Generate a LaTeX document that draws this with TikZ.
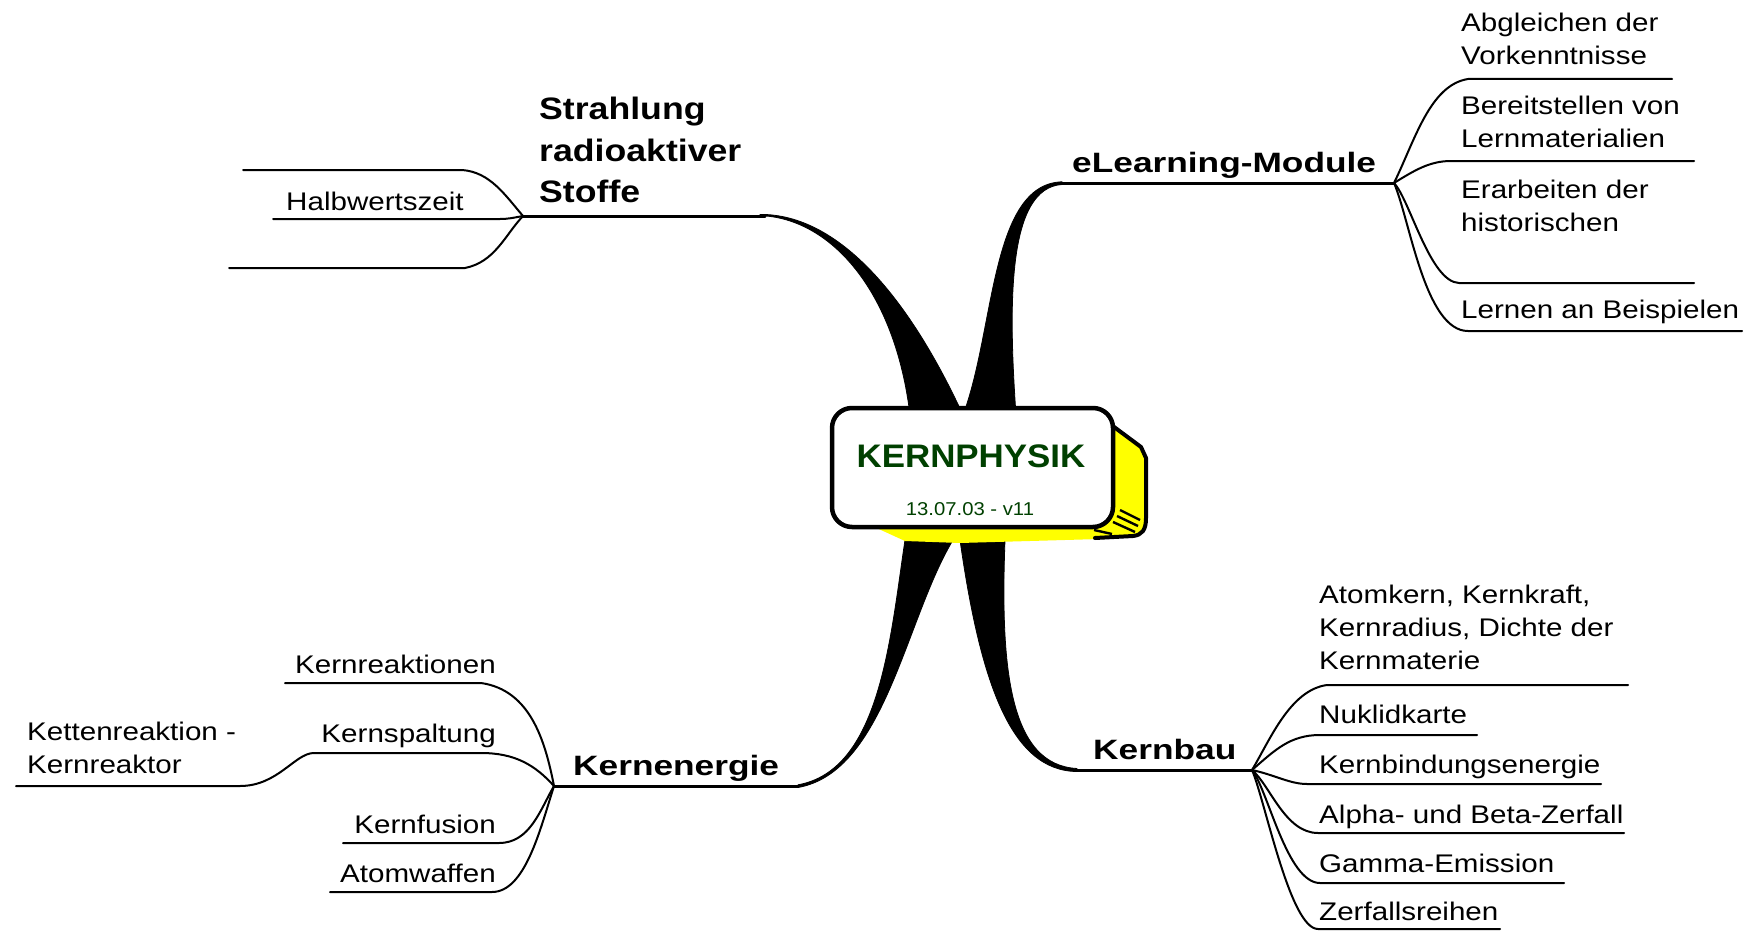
\documentclass[tikz,border=0pt]{standalone}
\usepackage{fontspec}
\setmainfont{Liberation Sans}
\newfontfamily\regfont[FakeStretch=1.16]{Liberation Sans}
\newfontfamily\boldfont[FakeStretch=1.26]{Liberation Sans}
\newfontfamily\strfont[FakeStretch=1.15]{Liberation Sans}
\newfontfamily\titlefont[FakeStretch=1.07]{Liberation Sans}
\newfontfamily\datefont[FakeStretch=1.09]{Liberation Sans}
\definecolor{kgreen}{RGB}{0,64,0}
\definecolor{kyellow}{RGB}{255,255,0}
\newcommand{\ml}[1]{\begin{tabular}[t]{@{}l@{}}#1\end{tabular}}
\begin{document}
\begin{tikzpicture}[x=1pt,y=-1pt,
  sub/.style={line width=2pt, line cap=round, line join=round},
  mainline/.style={line width=3pt, line cap=round},
  thick/.style={fill=black, draw=black, line width=0.8pt, line join=round},
  reg/.style={inner sep=0pt, font=\regfont\fontsize{25.5}{33}\selectfont},
  bold/.style={inner sep=0pt, font=\boldfont\bfseries\fontsize{28}{41}\selectfont},
]
\useasboundingbox (0,0) rectangle (1753,931);

% fork points and branch ends
\coordinate (fS) at (523,216);
\coordinate (fE) at (1394,183);
\coordinate (fK) at (1252,770);
\coordinate (fN) at (554,786);
\coordinate (eS) at (765,216);
\coordinate (eE) at (1060,183);
\coordinate (eK) at (1075,770);
\coordinate (eN) at (798,786);

% thick tapered branches
\fill[thick] (760,215.6) .. controls (830,218) and (895,290) .. (910,415) -- (963,415)
  .. controls (910,300) and (840,214) .. (760,214.4) -- cycle;
\fill[thick] (963,415) .. controls (995,330) and (990,184) .. (1062,181.8) -- (1062,184.5)
  .. controls (1008,188) and (1008,300) .. (1016,415) -- cycle;
\fill[thick] (905,540) .. controls (890,640) and (880,770) .. (798,784.8) -- (798,787.5)
  .. controls (885,772) and (905,620) .. (953,540) -- cycle;
\fill[thick] (960,540) .. controls (980,680) and (1010,771) .. (1077,771.5) -- (1077,768.5)
  .. controls (1010,765) and (1000,670) .. (1005,540) -- cycle;

% main lines
\draw[mainline] (fS) -- (eS);
\draw[mainline] (eE) -- (fE);
\draw[mainline] (eK) -- (fK);
\draw[mainline] (fN) -- (eN);

% central box: yellow 3D side
\fill[kyellow] (1100,418) -- (1141,447) -- (1146,458) -- (1146,518)
  .. controls (1146,530) and (1142,535) .. (1133,536) -- (1100,539) -- (960,543)
  -- (905,541) -- (870,525) -- cycle;
\draw[line width=4pt, line join=round, line cap=round]
  (1106,421) -- (1141,447) -- (1146,458) -- (1146,518)
  .. controls (1146,530) and (1142,535) .. (1133,536) -- (1095,538);
\node[draw=black, fill=white, line width=4.5pt, rounded corners=20pt,
  minimum width=281pt, minimum height=119pt, inner sep=0pt] (center) at (972.5,467.5) {};
\foreach \a/\b/\c/\d in {1120/510/1140/520, 1117/516/1138/526, 1113/522/1135/532, 1094/530/1112/534}
  \draw[line width=2.4pt] (\a,\b) -- (\c,\d);
\node[inner sep=0pt, anchor=base, text=kgreen, font=\titlefont\bfseries\fontsize{32.6}{38}\selectfont]
  (title) at (971,467) {KERNPHYSIK};
\node[inner sep=0pt, anchor=base, text=kgreen, font=\datefont\fontsize{18.6}{22}\selectfont]
  (date) at (970,515) {13.07.03 - v11};

% main labels
\node[inner sep=0pt, anchor=base west, font=\strfont\bfseries\fontsize{31}{41.5}\selectfont]
  (lStr) at (539,120) {\ml{Strahlung\\radioaktiver\\Stoffe}};
\node[bold, anchor=base west] (lEle) at (1072,172) {eLearning-Module};
\node[bold, anchor=base west] (lKbau) at (1093,759) {Kernbau};
\node[bold, anchor=base west] (lKen) at (573,775) {Kernenergie};

% Strahlung sub-branches
\draw[sub] (fS) .. controls (505,195) and (490,172) .. (462,170) -- (243,170);
\draw[sub] (fS) .. controls (512,218) and (508,219) .. (500,219) -- (273,219);
\draw[sub] (fS) .. controls (505,235) and (495,262) .. (465,268) -- (229,268);
\node[reg, anchor=base west] (hwz) at (286,210) {Halbwertszeit};

% eLearning sub-branches
\draw[sub] (fE) .. controls (1415,140) and (1430,85) .. (1468,79) -- (1672,79);
\draw[sub] (fE) .. controls (1415,170) and (1430,161) .. (1451,161) -- (1694,161);
\draw[sub] (fE) .. controls (1410,200) and (1430,282) .. (1459,283) -- (1694,283);
\draw[sub] (fE) .. controls (1410,220) and (1425,331) .. (1468,331) -- (1742,331);
\node[reg, anchor=base west] (e1) at (1461,32) {\ml{Abgleichen der\\Vorkenntnisse}};
\node[reg, anchor=base west] (e2) at (1461,115) {\ml{Bereitstellen von\\Lernmaterialien}};
\node[reg, anchor=base west] (e3) at (1461,198) {\ml{Erarbeiten der\\historischen}};
\node[reg, anchor=base west] (e4) at (1461,318) {Lernen an Beispielen};

% Kernbau sub-branches
\draw[sub] (fK) .. controls (1270,740) and (1290,690) .. (1327,685) -- (1628,685);
\draw[sub] (fK) .. controls (1275,750) and (1290,735) .. (1320,735) -- (1477,735);
\draw[sub] (fK) .. controls (1275,775) and (1290,784) .. (1307,784) -- (1601,784);
\draw[sub] (fK) .. controls (1270,785) and (1285,833) .. (1318,833) -- (1624,833);
\draw[sub] (fK) .. controls (1268,790) and (1287,883) .. (1320,883) -- (1564,883);
\draw[sub] (fK) .. controls (1265,800) and (1290,929) .. (1318,929) -- (1500,929);
\node[reg, anchor=base west] (k1) at (1319,603) {\ml{Atomkern, Kernkraft,\\Kernradius, Dichte der\\Kernmaterie}};
\node[reg, anchor=base west] (k2) at (1319,723) {Nuklidkarte};
\node[reg, anchor=base west] (k3) at (1319,773) {Kernbindungsenergie};
\node[reg, anchor=base west] (k4) at (1319,823) {Alpha- und Beta-Zerfall};
\node[reg, anchor=base west] (k5) at (1319,872) {Gamma-Emission};
\node[reg, anchor=base west] (k6) at (1319,920) {Zerfallsreihen};

% Kernenergie sub-branches
\draw[sub] (fN) .. controls (545,740) and (530,690) .. (481,683) -- (285,683);
\draw[sub] (fN) .. controls (535,765) and (515,753) .. (481,753) -- (314,753)
  .. controls (295,753) and (278,786) .. (240,786) -- (16,786);
\draw[sub] (fN) .. controls (540,810) and (530,843) .. (499,843) -- (343,843);
\draw[sub] (fN) .. controls (540,830) and (525,892) .. (492,892) -- (330,892);
\node[reg, anchor=base east] (n1) at (496,673) {Kernreaktionen};
\node[reg, anchor=base east] (n2) at (496,742) {Kernspaltung};
\node[reg, anchor=base west] (n3) at (27,740) {\ml{Kettenreaktion -\\Kernreaktor}};
\node[reg, anchor=base east] (n4) at (496,833) {Kernfusion};
\node[reg, anchor=base east] (n5) at (496,882) {Atomwaffen};
\end{tikzpicture}
\end{document}
